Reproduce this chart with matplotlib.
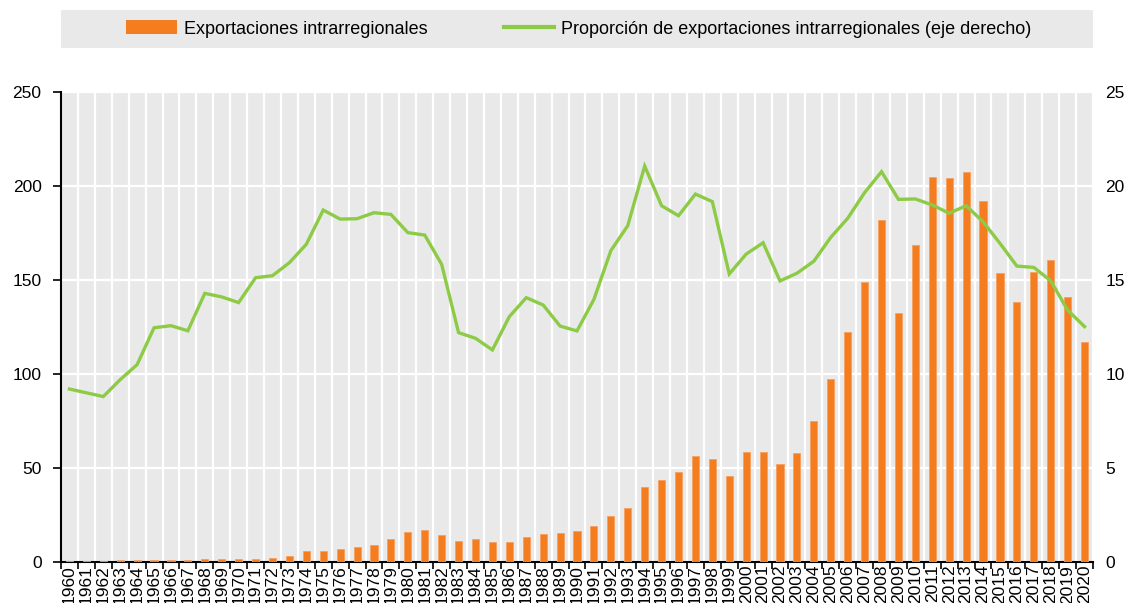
import numpy as np
import matplotlib
matplotlib.use("Agg")
import matplotlib.pyplot as plt
from matplotlib.patches import Rectangle
from matplotlib.lines import Line2D
from matplotlib.patches import Patch

plt.rcParams["font.family"] = ["Liberation Sans", "DejaVu Sans"]

years = list(range(1960, 2021))

# Exportaciones intrarregionales (eje izquierdo)
exports = [
    0.4, 0.5, 0.5, 0.8, 0.8, 0.9, 1.2, 1.3, 1.4, 1.5,
    1.4, 1.8, 2.0, 3.0, 5.7, 5.8, 6.7, 8.0, 8.9, 12.1,
    15.8, 17.2, 14.4, 11.0, 12.1, 10.6, 10.6, 13.3, 15.1, 15.4,
    16.5, 19.1, 24.5, 28.9, 39.9, 43.6, 47.9, 56.4, 54.8, 45.7,
    58.5, 58.5, 52.0, 58.0, 75.0, 97.2, 122.5, 149.1, 181.9, 132.6,
    168.6, 205.0, 204.1, 207.3, 192.0, 153.9, 138.3, 154.3, 160.6, 141.0,
    116.9,
]

# Proporción de exportaciones intrarregionales (eje derecho)
share = [
    9.2, 9.0, 8.8, 9.7, 10.5, 12.46, 12.57, 12.3, 14.29, 14.1,
    13.8, 15.12, 15.23, 15.92, 16.9, 18.72, 18.24, 18.26, 18.58, 18.49,
    17.52, 17.39, 15.83, 12.2, 11.9, 11.28, 13.05, 14.06, 13.67, 12.55,
    12.29, 13.97, 16.56, 17.89, 21.06, 18.95, 18.42, 19.57, 19.17, 15.32,
    16.38, 16.98, 14.95, 15.36, 16.0, 17.27, 18.28, 19.65, 20.76, 19.29,
    19.31, 18.99, 18.55, 18.95, 18.1, 16.95, 15.74, 15.67, 14.96, 13.4,
    12.52,
]

left_ticks = [0, 50, 100, 150, 200, 250]
right_ticks = [0, 5, 10, 15, 20, 25]
labels = ["Exportaciones intrarregionales",
          "Proporción de exportaciones intrarregionales (eje derecho)"]

orange = "#F47D20"
green = "#8DCB47"
bg = "#E9E9E9"

fig = plt.figure(figsize=(11.35, 6.03), dpi=100)
ax = fig.add_axes([61 / 1135, 1 - 562 / 603, (1093 - 61) / 1135, 470 / 603])
ax.set_facecolor(bg)

x = np.arange(len(years))
ax.bar(x, exports, width=0.42, color=orange, edgecolor="#F7A060", linewidth=0.6, zorder=3)
ax.set_xlim(-0.5, len(years) - 0.5)
ax.set_ylim(0, 250)
ax.set_yticks(left_ticks)
ax.set_xticks(x)
ax.set_xticklabels([str(y) for y in years], rotation=90, fontsize=12.5, va="top")
ax.set_xticks(np.arange(-0.5, len(years)), minor=True)
ax.tick_params(axis="x", which="major", length=0, pad=2)
ax.tick_params(axis="x", which="minor", length=5, width=1.2, direction="out", color="black")
ax.tick_params(axis="y", length=6, width=1.2, labelsize=12.5, pad=8)
ax.set_axisbelow(True)
ax.grid(axis="y", color="white", linewidth=1.6)
ax.grid(axis="x", which="minor", color="white", linewidth=1.6)
ax.grid(axis="x", which="major", visible=False)
for side in ["top", "right"]:
    ax.spines[side].set_visible(False)
ax.spines["left"].set_linewidth(1.5)
ax.spines["bottom"].set_linewidth(1.5)

ax2 = ax.twinx()
ax2.plot(x, share, color=green, linewidth=2.4, zorder=4, solid_joinstyle="miter")
ax2.set_ylim(0, 25)
ax2.set_yticks(right_ticks)
ax2.tick_params(axis="y", length=0, labelsize=12.5, pad=9)
for side in ["top", "right", "left", "bottom"]:
    ax2.spines[side].set_visible(False)

# legend band
fig.patches.append(Rectangle((61 / 1135, 1 - 48 / 603), (1093 - 61) / 1135, 38 / 603,
                             transform=fig.transFigure, facecolor=bg, edgecolor="none", zorder=0))
handles = [Patch(facecolor=orange, edgecolor="none"),
           Line2D([0], [0], color=green, linewidth=3)]
fig.legend(handles, labels, loc="center", bbox_to_anchor=(579 / 1135, 1 - 29 / 603),
           ncol=2, frameon=False, fontsize=13, handlelength=2.8, handleheight=0.8,
           handletextpad=0.4, columnspacing=4.2)

fig.savefig("out.png", dpi=100)
